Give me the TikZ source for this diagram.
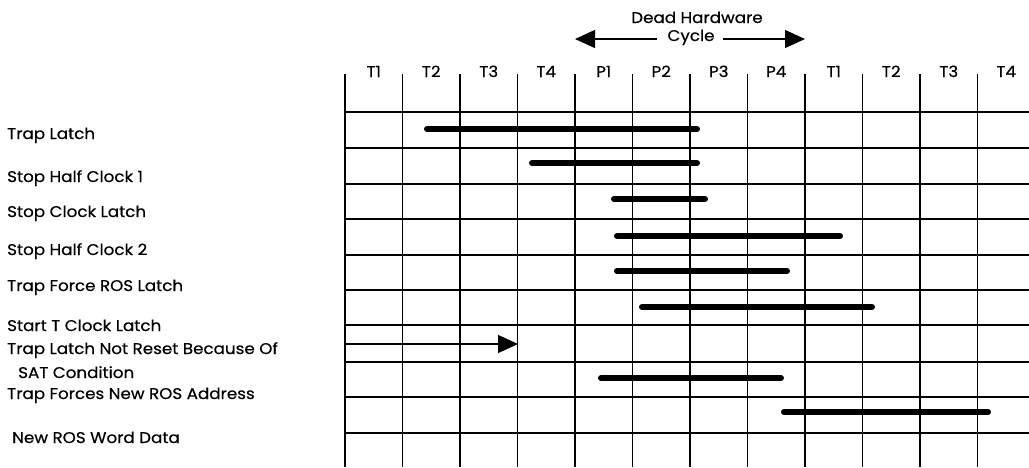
\documentclass[tikz,border=0pt]{standalone}
\usepackage{fontspec}
\setmainfont{Poppins}[FakeBold=0.5,FakeStretch=1.08]
\usetikzlibrary{arrows.meta}
\begin{document}
\begin{tikzpicture}[x=1pt,y=-1pt,
  gridline/.style={line width=1.6pt},
  heavyline/.style={line width=2.6pt},
  barline/.style={line width=6pt, line cap=round},
  lbl/.style={anchor=base west, inner sep=0pt, font=\fontsize{15.5}{17}\selectfont},
  collbl/.style={anchor=base, inner sep=0pt, font=\fontsize{15.5}{17}\selectfont},
  tiparrow/.style={-{Triangle[length=20pt,width=18pt]}, line width=1.3pt}
]
\useasboundingbox (0,0) rectangle (1029,467);

% header
\node[collbl] (dead) at (697,23) {Dead Hardware};
\node[collbl] (cycle) at (691,41) {Cycle};
\coordinate (cl) at (575,39);
\coordinate (cr) at (805,39);
\coordinate (cla) at (657,39);
\coordinate (cra) at (723,39);
\draw[tiparrow] (cla) -- (cl);
\draw[tiparrow] (cra) -- (cr);

% column labels
\foreach \t [count=\i from 0] in {T1,T2,T3,T4,P1,P2,P3,P4,T1,T2,T3,T4}{
  \node[collbl] (c\i) at ({345+57.5*(\i+0.5)},77) {\t};
}

% horizontal grid lines
\foreach \y [count=\j] in {112,148,184,219,255,290,325,362,397,433}{
  \coordinate (hl\j) at (345,\y);
  \coordinate (hr\j) at (1029,\y);
  \draw[gridline] (hl\j) -- (hr\j);
}

% vertical grid lines
\foreach \i in {0,...,11}{
  \coordinate (vt\i) at ({345+57.5*\i},74);
  \coordinate (vb\i) at ({345+57.5*\i},467);
  \draw[gridline] (vt\i) -- (vb\i);
}
\foreach \i in {0,4,8}{
  \draw[heavyline] (vt\i) -- (vb\i);
}

% row labels
\node[lbl] (l1) at (7,139) {Trap Latch};
\node[lbl] (l2) at (7,182) {Stop Half Clock 1};
\node[lbl] (l3) at (7,217) {Stop Clock Latch};
\node[lbl] (l4) at (7,255) {Stop Half Clock 2};
\node[lbl] (l5) at (7,291) {Trap Force ROS Latch};
\node[lbl] (l6) at (7,331) {Start T Clock Latch};
\node[lbl] (l7) at (7,354) {Trap Latch Not Reset Because Of};
\node[lbl] (l7b) at (18,378) {SAT Condition};
\node[lbl] (l8) at (7,399) {Trap Forces New ROS Address};
\node[lbl] (l9) at (12,443) {New ROS Word Data};

% bars
\coordinate (b1s) at (427,129); \coordinate (b1e) at (697,129);
\coordinate (b2s) at (532,163); \coordinate (b2e) at (697,163);
\coordinate (b3s) at (614,199); \coordinate (b3e) at (705,199);
\coordinate (b4s) at (617,236); \coordinate (b4e) at (840,236);
\coordinate (b5s) at (617,271); \coordinate (b5e) at (787,271);
\coordinate (b6s) at (642,307); \coordinate (b6e) at (872,307);
\coordinate (b8s) at (601,378); \coordinate (b8e) at (781,378);
\coordinate (b9s) at (784,412); \coordinate (b9e) at (988,412);
\foreach \k in {1,2,3,4,5,6,8,9}{
  \draw[barline] (b\k s) -- (b\k e);
}

% SAT arrow
\coordinate (as) at (345,344);
\coordinate (ae) at (518,344);
\draw[tiparrow] (as) -- (ae);
\end{tikzpicture}
\end{document}
